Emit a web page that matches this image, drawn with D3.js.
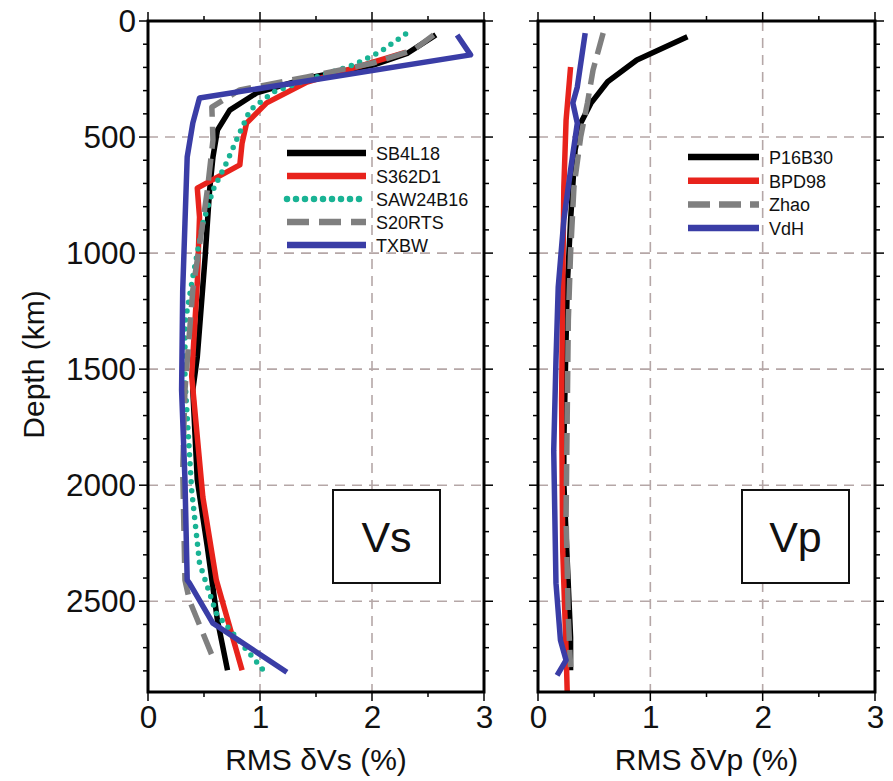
<!DOCTYPE html>
<html>
<head>
<meta charset="utf-8">
<script src="https://cdn.jsdelivr.net/npm/d3@7"></script>
<style>
  html, body { margin: 0; padding: 0; background: #fff; }
  svg { display: block; }
  text { font-family: "Liberation Sans", Arial, Helvetica, sans-serif; fill: #111; }
</style>
</head>
<body>
<svg id="chart" width="893" height="781"></svg>
<script>
// ---- data: RMS velocity heterogeneity (%) versus depth (km) ----
const depthTicks = [0, 500, 1000, 1500, 2000, 2500];
const rmsTicks = [0, 1, 2, 3];
const cmbDepth = 2891;

const vsModels = ["SB4L18", "S362D1", "SAW24B16", "S20RTS", "TXBW"];
const vpModels = ["P16B30", "BPD98", "Zhao", "VdH"];

// [depth km, RMS %]
const sb4l18 = [[60,2.57],[138,2.32],[190,2.01],[246,1.42],[310,0.97],[384,0.73],[470,0.62],[586,0.58],[728,0.55],[1017,0.51],[1448,0.44],[1590,0.40],[1978,0.44],[2267,0.53],[2582,0.62],[2797,0.71]];
const s362d1 = [[135,2.30],[177,2.01],[263,1.42],[353,1.06],[440,0.88],[526,0.84],[620,0.82],[720,0.44],[845,0.46],[1129,0.44],[1530,0.39],[2052,0.49],[2409,0.61],[2797,0.84]];
const saw24b16 = [[56,2.30],[134,2.07],[190,1.83],[254,1.42],[306,1.12],[384,0.91],[513,0.79],[612,0.70],[728,0.58],[871,0.49],[1103,0.40],[1302,0.33],[1547,0.33],[2022,0.39],[2336,0.46],[2552,0.61],[2797,1.03]];
const s20rts = [[60,2.55],[125,2.37],[181,2.01],[241,1.42],[297,0.82],[371,0.57],[513,0.58],[728,0.53],[901,0.48],[1159,0.40],[1590,0.33],[1935,0.31],[2409,0.33],[2496,0.37],[2767,0.60]];
const txbw = [[60,2.76],[146,2.88],[332,0.46],[440,0.40],[586,0.35],[871,0.33],[1159,0.31],[1590,0.30],[1978,0.33],[2409,0.35],[2422,0.37],[2595,0.58],[2806,1.24]];

const p16b30 = [[68,1.33],[168,0.88],[262,0.62],[355,0.47],[440,0.38],[556,0.33],[858,0.29],[1147,0.26],[1819,0.23],[1991,0.23],[2323,0.26],[2655,0.29],[2797,0.29]];
const bpd98 = [[198,0.29],[427,0.25],[716,0.23],[1147,0.22],[1634,0.21],[2280,0.22],[2711,0.25],[2892,0.26]];
const zhao = [[52,0.58],[211,0.49],[353,0.44],[500,0.38],[716,0.32],[1000,0.29],[1289,0.27],[1707,0.26],[2138,0.25],[2569,0.27],[2784,0.29]];
const vdh = [[52,0.42],[284,0.35],[353,0.31],[440,0.35],[642,0.29],[858,0.23],[1147,0.18],[1461,0.16],[1849,0.14],[2422,0.16],[2668,0.20],[2754,0.25],[2819,0.17]];

const vsSeries = [sb4l18, s362d1, saw24b16, s20rts, txbw];
const vpSeries = [p16b30, bpd98, zhao, vdh];

// ---- styling ----
const styles = {
  SB4L18:   { color: "#000000", dash: null },
  S362D1:   { color: "#e8231c", dash: null },
  SAW24B16: { color: "#19b394", dash: "0,9", cap: "round" },
  S20RTS:   { color: "#7f7f7f", dash: "22,10" },
  TXBW:     { color: "#3a3da6", dash: null },
  P16B30:   { color: "#000000", dash: null },
  BPD98:    { color: "#e8231c", dash: null },
  Zhao:     { color: "#7f7f7f", dash: "22,9" },
  VdH:      { color: "#3a3da6", dash: null }
};

const svg = d3.select("#chart");
const y = d3.scaleLinear().domain([0, cmbDepth]).range([21, 692]);
const labelSize = 31.5;

function panel(opts) {
  const x = d3.scaleLinear().domain([0, 3]).range(opts.range);
  const g = svg.append("g");
  const [x0, x1] = opts.range;
  const [y0, y1] = y.range();

  // dashed grid
  const grid = g.append("g").attr("stroke", "#b5a7a7").attr("stroke-width", 1.6)
    .attr("stroke-dasharray", "10,7");
  [1, 2].forEach(v => grid.append("line").attr("x1", x(v)).attr("x2", x(v)).attr("y1", y0).attr("y2", y1));
  depthTicks.slice(1).forEach(d => grid.append("line").attr("x1", x0).attr("x2", x1).attr("y1", y(d)).attr("y2", y(d)));

  // ticks outside the frame on all four sides
  const ax = g.append("g").attr("stroke", "#000");
  d3.range(0, cmbDepth + 1, 100).forEach(d => {
    const L = d % 500 === 0 ? 9 : 5;
    ax.append("line").attr("x1", x0 - L).attr("x2", x0).attr("y1", y(d)).attr("y2", y(d)).attr("stroke-width", 1.5);
    ax.append("line").attr("x1", x1).attr("x2", x1 + L).attr("y1", y(d)).attr("y2", y(d)).attr("stroke-width", 1.5);
  });
  d3.range(0, 3.01, 0.5).forEach(v => {
    const L = Number.isInteger(v) ? 9 : 5;
    ax.append("line").attr("x1", x(v)).attr("x2", x(v)).attr("y1", y1).attr("y2", y1 + L).attr("stroke-width", 1.5);
    ax.append("line").attr("x1", x(v)).attr("x2", x(v)).attr("y1", y0 - L).attr("y2", y0).attr("stroke-width", 1.5);
  });

  const bottom = d3.axisBottom(x).tickValues(rmsTicks).tickSize(0).tickPadding(14).tickFormat(d3.format("d"));
  const bg = g.append("g").attr("transform", `translate(0,${y1})`).call(bottom);
  bg.select(".domain").remove();
  bg.selectAll("text").attr("font-size", labelSize).attr("font-family", "Liberation Sans, Arial, sans-serif").attr("fill", "#111");

  if (opts.showDepth) {
    const left = d3.axisLeft(y).tickValues(depthTicks).tickSize(0).tickPadding(12).tickFormat(d3.format("d"));
    const lg = g.append("g").attr("transform", `translate(${x0},0)`).call(left);
    lg.select(".domain").remove();
    lg.selectAll("text").attr("font-size", labelSize).attr("font-family", "Liberation Sans, Arial, sans-serif").attr("fill", "#111");
    g.append("text").attr("transform", `translate(44,${y(1480)}) rotate(-90)`)
      .attr("text-anchor", "middle").attr("font-size", 30).text("Depth (km)");
  }

  g.append("text").attr("x", (x0 + x1) / 2).attr("y", 770).attr("text-anchor", "middle")
    .attr("font-size", 30).text(opts.title);

  // profiles
  const line = d3.line().x(p => x(p[1])).y(p => y(p[0]));
  opts.names.forEach((name, i) => {
    const s = styles[name];
    g.append("path").datum(opts.series[i]).attr("d", line)
      .attr("fill", "none").attr("stroke", s.color).attr("stroke-width", 5.5)
      .attr("stroke-linejoin", "round").attr("stroke-linecap", s.cap || "butt")
      .attr("stroke-dasharray", s.dash);
  });

  // frame
  g.append("rect").attr("x", x0).attr("y", y0).attr("width", x1 - x0).attr("height", y1 - y0)
    .attr("fill", "none").attr("stroke", "#000").attr("stroke-width", 3);

  // legend
  const leg = g.append("g");
  opts.names.forEach((name, i) => {
    const s = styles[name];
    const ly = opts.legY + i * opts.legStep;
    leg.append("line").attr("x1", opts.legX).attr("x2", opts.legX + opts.legW).attr("y1", ly).attr("y2", ly)
      .attr("stroke", s.color).attr("stroke-width", 6.5).attr("stroke-dasharray", s.dash)
      .attr("stroke-linecap", s.cap || "butt");
    leg.append("text").attr("x", opts.legX + opts.legW + 10).attr("y", ly + 7)
      .attr("font-size", 18).text(name);
  });

  // label box
  g.append("rect").attr("x", opts.boxX).attr("y", 490).attr("width", 107).attr("height", 93)
    .attr("fill", "#fff").attr("stroke", "#111").attr("stroke-width", 2);
  g.append("text").attr("x", opts.boxX + 53.5).attr("y", 552).attr("text-anchor", "middle")
    .attr("font-family", "Open Sans, sans-serif").attr("font-size", 43).text(opts.tag);
}

panel({ range: [148, 484], names: vsModels, series: vsSeries, showDepth: true,
  title: "RMS δVs (%)", tag: "Vs", boxX: 333, legX: 287, legW: 79, legY: 153, legStep: 23 });
panel({ range: [538, 875], names: vpModels, series: vpSeries, showDepth: false,
  title: "RMS δVp (%)", tag: "Vp", boxX: 742, legX: 688, legW: 71, legY: 157, legStep: 23.7 });
</script>
</body>
</html>
